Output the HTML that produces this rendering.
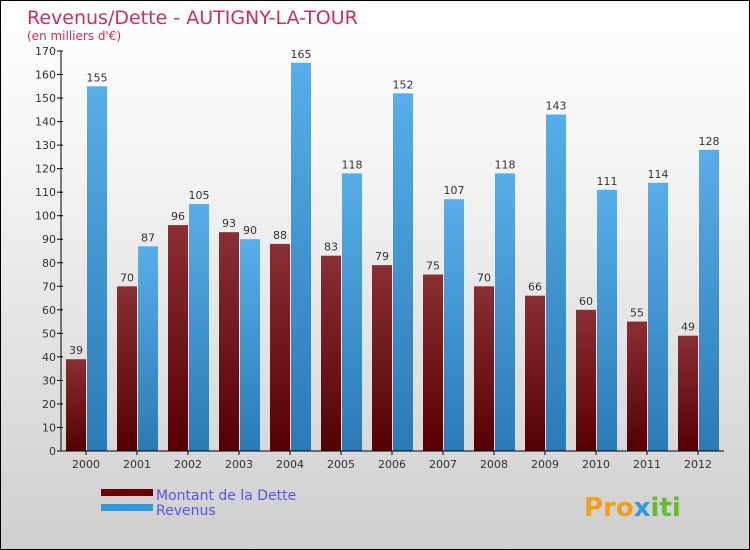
<!DOCTYPE html>
<html><head><meta charset="utf-8"><style>
body{margin:0}
#c{position:relative;width:748px;height:548px;border:1px solid #000;background:linear-gradient(#fff,#f4f4f4 30%,#cfcfcf);font-family:"DejaVu Sans","Liberation Sans",sans-serif;overflow:hidden}
</style></head><body>
<div id="c">
<svg id="s" width="748" height="548" style="position:absolute;left:0;top:0">
<defs>
<linearGradient id="gd" x1="0" y1="0" x2="0" y2="1"><stop offset="0" stop-color="#8a2f33"/><stop offset="1" stop-color="#560003"/></linearGradient>
<linearGradient id="gr" x1="0" y1="0" x2="0" y2="1"><stop offset="0" stop-color="#58aee8"/><stop offset="1" stop-color="#2a7ab5"/></linearGradient>
</defs>
<text x="26" y="23" font-size="19" fill="#c8305a">Revenus/Dette - AUTIGNY-LA-TOUR</text>
<text x="26" y="39" font-size="12" fill="#c8305a">(en milliers d'€)</text>
<g id="plot"></g>
<rect x="100" y="488" width="52" height="7" fill="#6a0002"/>
<rect x="100" y="503" width="52" height="7" fill="#3399dd"/>
<text x="155" y="499" font-size="14" fill="#5555ee">Montant de la Dette</text>
<text x="155" y="514" font-size="14" fill="#5555ee">Revenus</text>
<text x="583" y="515" font-size="26" font-weight="bold" fill="#f0a020">Pro<tspan fill="#3399dd">x</tspan><tspan fill="#66bb33">iti</tspan></text>
</svg>
</div>
<script>
const years=["2000","2001","2002","2003","2004","2005","2006","2007","2008","2009","2010","2011","2012"];
const dette=[39,70,96,93,88,83,79,75,70,66,60,55,49];
const revenus=[155,87,105,90,165,118,152,107,118,143,111,114,128];
const yTicks=[0,10,20,30,40,50,60,70,80,90,100,110,120,130,140,150,160,170];
const NS="http://www.w3.org/2000/svg";
const g=document.getElementById('plot');
const x0=60,band=51,y0=450,yMax=170,h=400;
const y=v=>y0-v/yMax*h;
const cx=i=>x0+band*i+25;
function mk(t,a){const e=document.createElementNS(NS,t);for(const k in a)e.setAttribute(k,a[k]);g.appendChild(e);return e;}
yTicks.forEach(v=>{
 const l=mk('line',{x1:x0-4,x2:x0+2,y1:y(v),y2:y(v),stroke:'#000'});
 
 
 const t=mk('text',{x:x0-5,y:y(v)+4,'font-size':11,'text-anchor':'end',fill:'#333'});t.textContent=v;
 
 
});
years.forEach((yr,i)=>{
 const c=cx(i);
 const b1=mk('rect',{x:c-20,y:y(dette[i]),width:20,height:y0-y(dette[i]),fill:'url(#gd)'});
 
 
 const b2=mk('rect',{x:c+1,y:y(revenus[i]),width:20,height:y0-y(revenus[i]),fill:'url(#gr)'});
 
 
 const t1=mk('text',{x:c-10,y:y(dette[i])-5,'font-size':11,'text-anchor':'middle',fill:'#333'});t1.textContent=dette[i];
 
 
 const t2=mk('text',{x:c+11,y:y(revenus[i])-5,'font-size':11,'text-anchor':'middle',fill:'#333'});t2.textContent=revenus[i];
 
 
 const tk=mk('line',{x1:c,x2:c,y1:y0,y2:y0+4,stroke:'#000'});
 
 
 const xl=mk('text',{x:c,y:y0+17,'font-size':11,'text-anchor':'middle',fill:'#333'});xl.textContent=yr;
 
 
});
const ax=mk('line',{x1:x0,x2:x0,y1:y(170),y2:y0,stroke:'#000'});


const bx=mk('line',{x1:x0-3,x2:x0+band*13,y1:y0,y2:y0,stroke:'#000'});


</script>
</body></html>
